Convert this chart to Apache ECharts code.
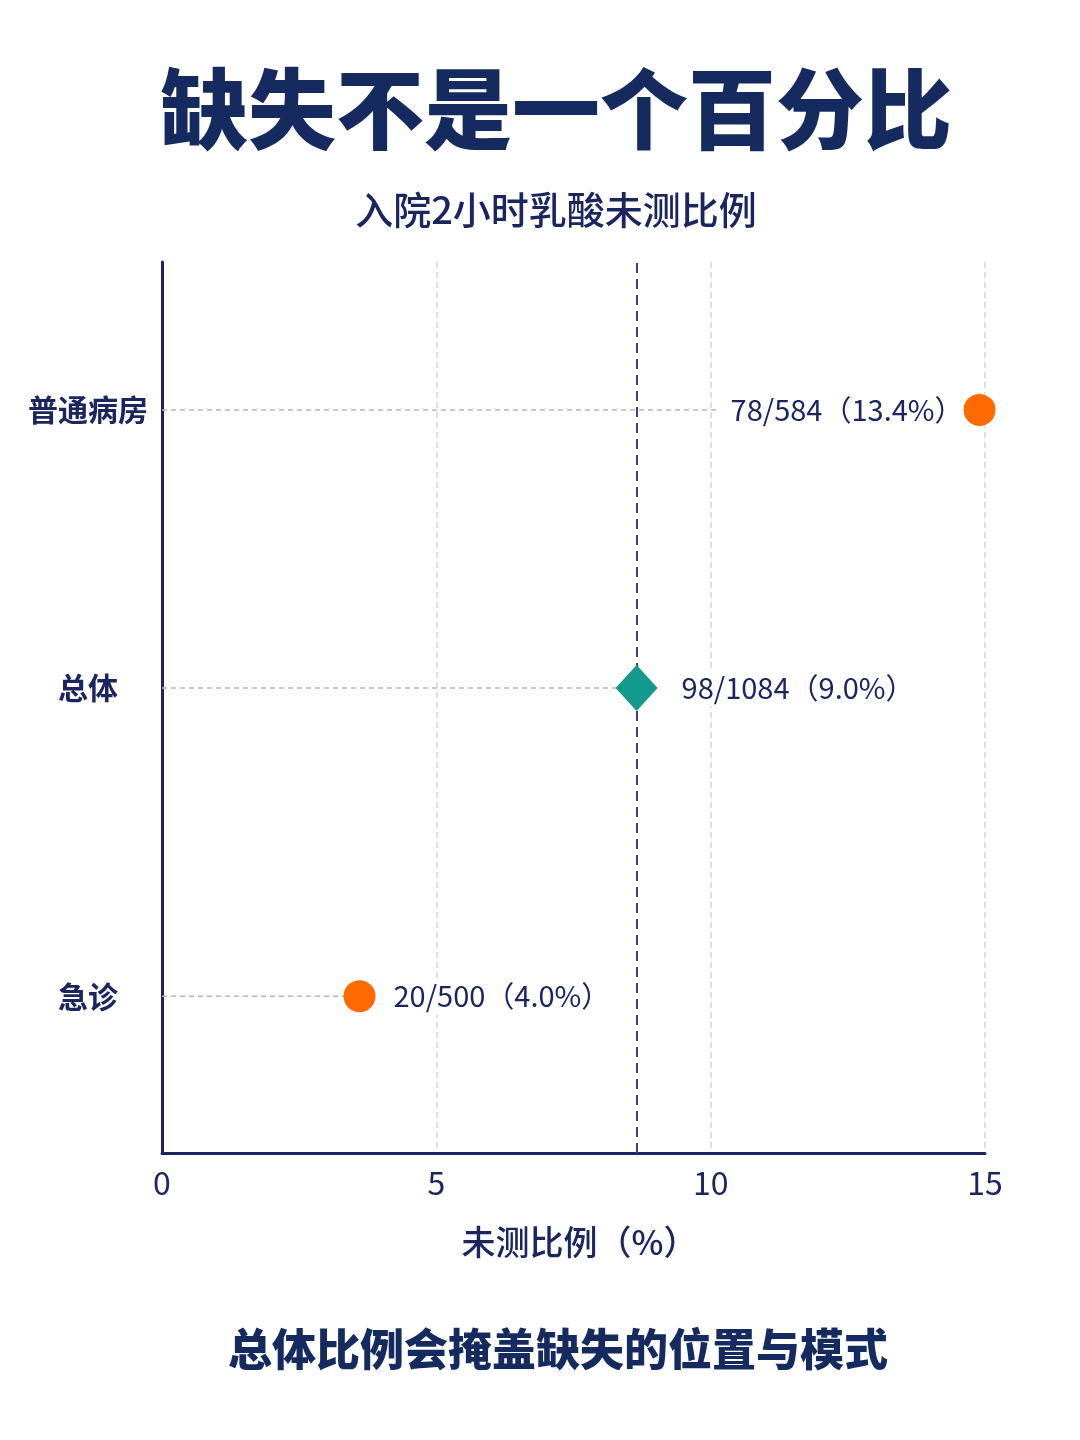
<!DOCTYPE html>
<html>
<head>
<meta charset="utf-8">
<title>缺失不是一个百分比</title>
<script src="https://cdn.jsdelivr.net/npm/echarts@6/dist/echarts.min.js"></script>
<style>
    html, body { margin: 0; padding: 0; background: #fff; }
    #main { width: 1080px; height: 1440px; }
</style>
</head>
<body>
<div id="main"></div>
<script>
    // 数据
    var categories = ['普通病房', '总体', '急诊'];
    var rowPos = [0.834, 0.522, 0.176];          // 纵向位置(0=底,1=顶)
    var plotValues = [14.9, 8.65, 3.6];          // 图上点的横坐标
    var pointLabels = ['78/584（13.4%）', '98/1084（9.0%）', '20/500（4.0%）'];
    var refValue = 8.65;                         // 总体参考线
    var xTicks = [0, 5, 10, 15];

    var navy = '#1b2660';
    var orange = '#ff6a00';
    var teal = '#14998f';
    var fontCJK = '"Noto Sans CJK SC", "Noto Sans", sans-serif';

    var series = [];

    // 每一行的水平虚线: 从轴到点
    for (var i = 0; i < categories.length; i++) {
        series.push({
            type: 'line',
            silent: true,
            symbol: 'none',
            z: 1,
            lineStyle: { color: '#b8b8b8', width: 1.5, type: [5, 4] },
            data: [[0, rowPos[i]], [plotValues[i], rowPos[i]]]
        });
    }

    // 点和标签
    var pointData = [];
    for (var j = 0; j < categories.length; j++) {
        var isTotal = categories[j] === '总体';
        var isLeft = j === 0;
        pointData.push({
            value: [plotValues[j], rowPos[j]],
            symbol: isTotal ? 'diamond' : 'circle',
            symbolSize: isTotal ? [42, 46] : 32,
            itemStyle: { color: isTotal ? teal : orange, opacity: 1 },
            label: {
                show: true,
                formatter: pointLabels[j],
                position: isLeft ? 'left' : 'right',
                distance: isLeft ? 0 : (isTotal ? 14 : 8),
                color: navy,
                fontSize: 29,
                fontFamily: fontCJK,
                backgroundColor: '#fff',
                padding: isLeft ? [4, 0, 4, 14] : [4, 10]
            }
        });
    }
    series.push({
        type: 'scatter',
        z: 5,
        itemStyle: { opacity: 1 },
        data: pointData,
        markLine: {
            silent: true,
            symbol: 'none',
            label: { show: false },
            lineStyle: { color: '#3a4478', width: 2, type: [10, 6] },
            data: [{ xAxis: refValue }]
        }
    });

    // 类别名称 (放在 y 轴左侧)
    var catData = [];
    for (var k = 0; k < categories.length; k++) {
        catData.push({ value: [0, rowPos[k]], name: categories[k] });
    }
    series.push({
        type: 'scatter',
        silent: true,
        symbolSize: 0,
        z: 6,
        itemStyle: { opacity: 1 },
        data: catData,
        label: {
            show: true,
            formatter: '{b}',
            position: 'inside',
            offset: [-74, 0],
            align: 'center',
            color: navy,
            fontSize: 30,
            fontWeight: 600,
            fontFamily: fontCJK
        }
    });

    var myChart = echarts.init(document.getElementById('main'));
    var option = {
        backgroundColor: '#fff',
        title: [
            {
                text: '缺失不是一个百分比',
                left: 551,
                textAlign: 'center',
                top: 60,
                textStyle: { color: '#152a5e', fontSize: 88, fontWeight: 900, fontFamily: fontCJK }
            },
            {
                text: '入院2小时乳酸未测比例',
                left: 551,
                textAlign: 'center',
                top: 186,
                textStyle: { color: navy, fontSize: 38, fontWeight: 500, fontFamily: fontCJK }
            },
            {
                text: '总体比例会掩盖缺失的位置与模式',
                left: 553,
                textAlign: 'center',
                top: 1322,
                textStyle: { color: '#152a5e', fontSize: 44, fontWeight: 800, fontFamily: fontCJK }
            }
        ],
        grid: {
            left: 162,
            right: 95,
            top: 262,
            bottom: 287
        },
        xAxis: {
            type: 'value',
            min: xTicks[0],
            max: xTicks[xTicks.length - 1],
            interval: 5,
            name: '未测比例（%）',
            nameLocation: 'middle',
            nameGap: 72,
            nameTextStyle: { color: navy, fontSize: 34, fontWeight: 500, fontFamily: fontCJK, padding: [0, 0, 0, 12] },
            axisLine: { show: true, lineStyle: { color: navy, width: 3 } },
            axisTick: { show: false },
            axisLabel: { color: navy, fontSize: 32, margin: 14, fontFamily: fontCJK },
            splitLine: {
                show: true,
                showMinLine: false,
                lineStyle: { color: '#d6d6d6', width: 1.5, type: [6, 4] }
            }
        },
        yAxis: {
            type: 'value',
            min: 0,
            max: 1,
            axisLine: { show: true, onZero: false, lineStyle: { color: navy, width: 3 } },
            axisTick: { show: false },
            axisLabel: { show: false },
            splitLine: { show: false }
        },
        series: series
    };

    myChart.setOption(option);
</script>
</body>
</html>
